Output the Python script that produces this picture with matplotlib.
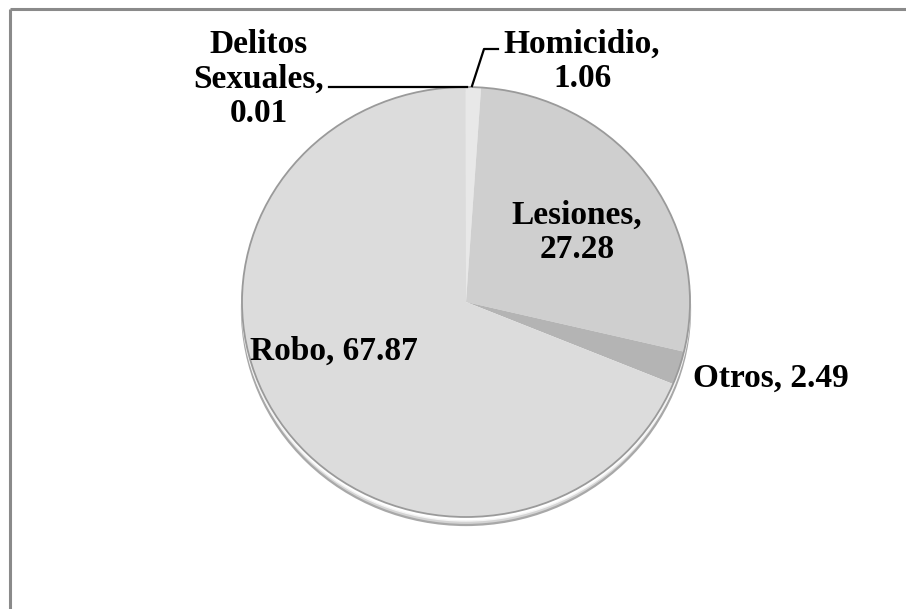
import matplotlib
matplotlib.use("Agg")
import matplotlib.pyplot as plt
from matplotlib.patches import Ellipse

# Shares of reported crimes (percent)
categories = ["Homicidio", "Lesiones", "Otros", "Robo", "Delitos Sexuales"]
values = [1.06, 27.28, 2.49, 67.87, 0.01]
colors = ["#e8e8e8", "#cfcfcf", "#b4b4b4", "#dcdcdc", "#ececec"]

W, H = 906, 609
fig = plt.figure(figsize=(W / 100, H / 100), dpi=100)
fig.patch.set_facecolor("white")

# Pie axes covering the pie's bounding box (slightly wider than tall)
px0, px1, py0, py1 = 242, 690, 87, 517
pie_ax = fig.add_axes([px0 / W, 1 - py1 / H, (px1 - px0) / W, (py1 - py0) / H])

# Drop shadow beneath the pie
shadow_dy = 8 / ((py1 - py0) / 2)
pie_ax.add_patch(Ellipse((0.0, -shadow_dy), 2.0, 2.0, facecolor="#d4d4d4",
                         edgecolor="#a8a8a8", linewidth=1.6, clip_on=False, zorder=0))
pie_ax.add_patch(Ellipse((0.0, -shadow_dy * 0.5), 2.0, 2.0, facecolor="#ffffff",
                         edgecolor="#f4f4f4", linewidth=1.0, clip_on=False, zorder=0.5))

wedges, _ = pie_ax.pie(values, colors=colors, startangle=90, counterclock=False,
                       radius=1.0, frame=True,
                       wedgeprops=dict(linewidth=0, zorder=1))
for w in wedges:
    w.set_clip_on(False)
pie_ax.add_patch(Ellipse((0, 0), 2.0, 2.0, facecolor="none", edgecolor="#9a9a9a",
                         linewidth=1.3, clip_on=False, zorder=2))
pie_ax.set_aspect("auto")
pie_ax.set_xlim(-1, 1)
pie_ax.set_ylim(-1, 1)
pie_ax.axis("off")

# Overlay in pixel coordinates for frame, labels and leader lines
ov = fig.add_axes([0, 0, 1, 1], zorder=5)
ov.set_xlim(0, W)
ov.set_ylim(H, 0)
ov.axis("off")
ov.patch.set_alpha(0)

# Chart frame (top and left edges)
ov.plot([10, W], [9, 9], color="#8a8a8a", linewidth=2.2, solid_capstyle="butt")
ov.plot([10, 10], [9, H], color="#8a8a8a", linewidth=2.2, solid_capstyle="butt")

font = dict(family=["Liberation Serif", "DejaVu Serif"], fontweight="bold",
            fontsize=24, color="black", ha="center", va="center",
            linespacing=1.14)

labels = {
    "Homicidio": (582, 61, True),
    "Lesiones": (577, 232, True),
    "Otros": (771, 378, False),
    "Robo": (334, 351, False),
    "Delitos Sexuales": (259, 79, True),
}
for name, val in zip(categories, values):
    x, y, stacked = labels[name]
    if name == "Delitos Sexuales":
        txt = "Delitos\nSexuales,\n" + f"{val:.2f}"
    elif stacked:
        txt = f"{name},\n{val:.2f}"
    else:
        txt = f"{name}, {val:.2f}"
    ov.text(x, y, txt, **font)

# Leader lines
ov.plot([329, 467], [87, 87], color="black", linewidth=1.6)
ov.plot([472, 484, 498], [86, 49, 49], color="black", linewidth=1.6)

fig.savefig("out.png", dpi=100, facecolor="white")
